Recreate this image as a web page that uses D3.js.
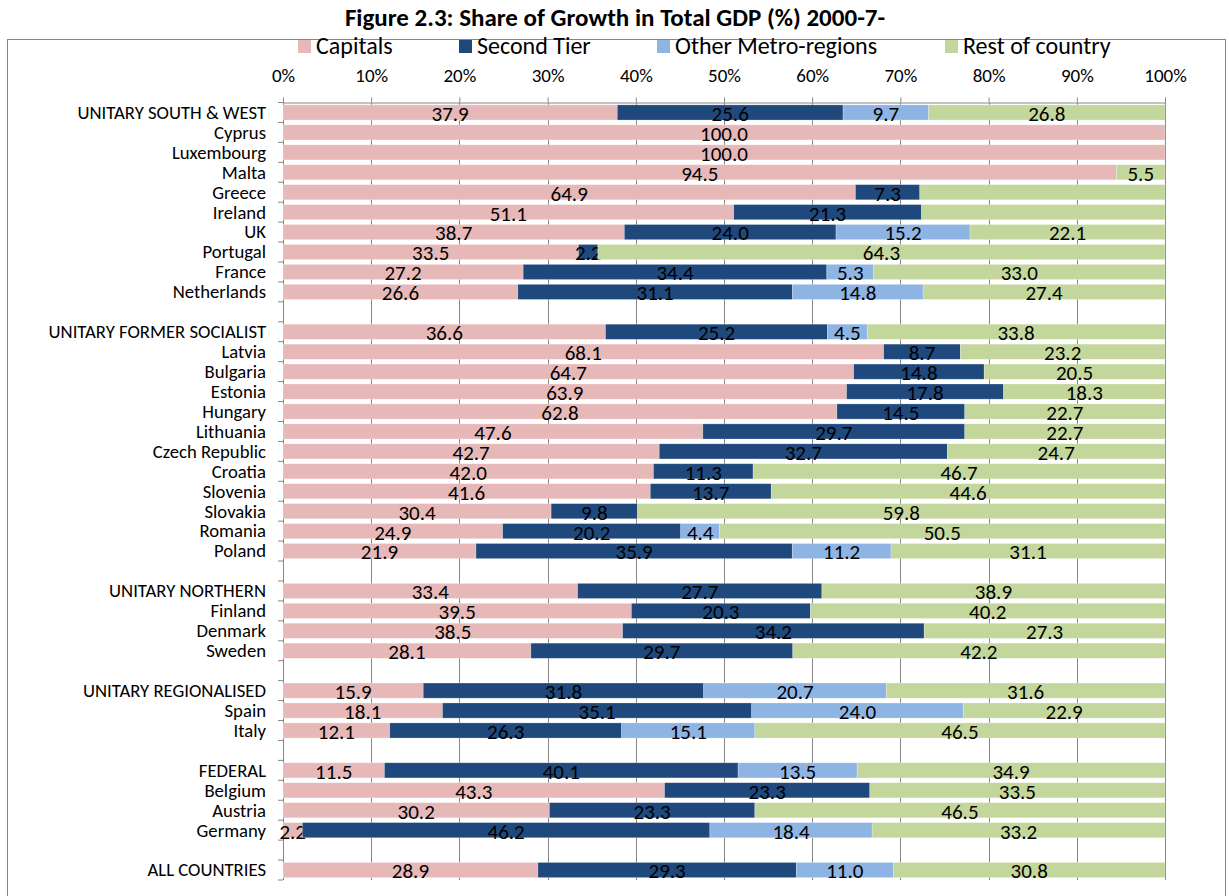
<!DOCTYPE html>
<html>
<head>
<meta charset="utf-8">
<script src="https://cdn.jsdelivr.net/npm/d3@7"></script>
<style>
  body { margin: 0; background: #fff; }
  svg text { font-family: Carlito, Calibri, Lato, sans-serif; fill: #000; }
</style>
</head>
<body>
<div class="chart"></div>
<script>
(function() {

  var width = 1229, height = 896

  // rows of the chart, "" is an empty spacer row
  var categories = ["UNITARY SOUTH & WEST", "Cyprus", "Luxembourg", "Malta", "Greece", "Ireland", "UK", "Portugal", "France", "Netherlands",
                    "",
                    "UNITARY FORMER SOCIALIST", "Latvia", "Bulgaria", "Estonia", "Hungary", "Lithuania", "Czech Republic", "Croatia", "Slovenia", "Slovakia", "Romania", "Poland",
                    "",
                    "UNITARY NORTHERN", "Finland", "Denmark", "Sweden",
                    "",
                    "UNITARY REGIONALISED", "Spain", "Italy",
                    "",
                    "FEDERAL", "Belgium", "Austria", "Germany",
                    "",
                    "ALL COUNTRIES"]

  var seriesNames = ["Capitals", "Second Tier", "Other Metro-regions", "Rest of country"]

  var capitals   = [37.9, 100.0, 100.0, 94.5, 64.9, 51.1, 38.7, 33.5, 27.2, 26.6, 0,
                    36.6, 68.1, 64.7, 63.9, 62.8, 47.6, 42.7, 42.0, 41.6, 30.4, 24.9, 21.9, 0,
                    33.4, 39.5, 38.5, 28.1, 0, 15.9, 18.1, 12.1, 0, 11.5, 43.3, 30.2, 2.2, 0, 28.9]
  var secondTier = [25.6, 0, 0, 0, 7.3, 21.3, 24.0, 2.2, 34.4, 31.1, 0,
                    25.2, 8.7, 14.8, 17.8, 14.5, 29.7, 32.7, 11.3, 13.7, 9.8, 20.2, 35.9, 0,
                    27.7, 20.3, 34.2, 29.7, 0, 31.8, 35.1, 26.3, 0, 40.1, 23.3, 23.3, 46.2, 0, 29.3]
  var otherMetro = [9.7, 0, 0, 0, 0, 0, 15.2, 0, 5.3, 14.8, 0,
                    4.5, 0, 0, 0, 0, 0, 0, 0, 0, 0, 4.4, 11.2, 0,
                    0, 0, 0, 0, 0, 20.7, 24.0, 15.1, 0, 13.5, 0, 0, 18.4, 0, 11.0]
  var restOfCountry = [26.8, 0, 0, 5.5, 27.8, 27.6, 22.1, 64.3, 33.0, 27.4, 0,
                    33.8, 23.2, 20.5, 18.3, 22.7, 22.7, 24.7, 46.7, 44.6, 59.8, 50.5, 31.1, 0,
                    38.9, 40.2, 27.3, 42.2, 0, 31.6, 22.9, 46.5, 0, 34.9, 33.5, 46.5, 33.2, 0, 30.8]

  // segments drawn in the original without a value label
  var unlabelled = ["Greece|Rest of country", "Ireland|Rest of country"]

  var xTicks = [0, 0.1, 0.2, 0.3, 0.4, 0.5, 0.6, 0.7, 0.8, 0.9, 1]

  var colors = ["#E6B9B8", "#1F497D", "#8EB4E3", "#C3D69B"]

  var rows = categories.map(function(c, i) {
    return { idx: i, name: c, "Capitals": capitals[i], "Second Tier": secondTier[i],
             "Other Metro-regions": otherMetro[i], "Rest of country": restOfCountry[i] }
  })

  var stack = d3.stack()
                .keys(seriesNames)
                .offset(d3.stackOffsetExpand)
  var layers = stack(rows)

  var margin = { left: 283, right: 64, top: 102.5, bottom: 16 }
  var plotBottom = 880

  var xScale = d3.scaleLinear()
                 .domain([0, 1])
                 .range([margin.left, width - margin.right])

  var yScale = d3.scaleBand()
                 .domain(d3.range(categories.length))
                 .range([margin.top, plotBottom])
                 .paddingInner(0.24)
                 .paddingOuter(0.12)

  var color = d3.scaleOrdinal()
                .domain(seriesNames)
                .range(colors)

  var svg = d3.select(".chart")
              .append("svg")
              .attr("width", width)
              .attr("height", height)

  // title
  svg.append("text")
     .text("Figure 2.3: Share of Growth in Total GDP (%) 2000-7-")
     .attr("x", 615)
     .attr("y", 26)
     .attr("text-anchor", "middle")
     .attr("font-size", "25px")
     .attr("font-weight", "bold")

  // chart frame
  svg.append("rect")
     .attr("x", 7.5)
     .attr("y", 39.5)
     .attr("width", 1218)
     .attr("height", 880)
     .attr("fill", "none")
     .attr("stroke", "#868686")

  // legend
  var legendX = [298, 459, 657, 945]
  var legend = svg.append("g")
                  .selectAll("g")
                  .data(seriesNames)
                  .enter()
                  .append("g")
                  .attr("transform", function(d, i) {
                    return "translate(" + legendX[i] + ",40)"
                  })
  legend.append("rect")
        .attr("width", 13)
        .attr("height", 13)
        .attr("fill", function(d) { return color(d) })
  legend.append("text")
        .text(function(d) { return d })
        .attr("x", 18)
        .attr("y", 14)
        .attr("font-size", "24px")

  // vertical gridlines
  svg.append("g")
     .selectAll("line")
     .data(xTicks)
     .enter()
     .append("line")
     .attr("x1", function(d) { return Math.round(xScale(d)) + 0.5 })
     .attr("x2", function(d) { return Math.round(xScale(d)) + 0.5 })
     .attr("y1", margin.top)
     .attr("y2", plotBottom)
     .attr("stroke", "#868686")

  // top axis
  var xAxis = d3.axisTop(xScale)
                .tickValues(xTicks)
                .tickFormat(d3.format(".0%"))
                .tickSize(5)
                .tickSizeOuter(0)
                .tickPadding(16)

  var gx = svg.append("g")
              .attr("transform", "translate(0," + margin.top + ")")
              .call(xAxis)
  gx.selectAll("path, line").attr("stroke", "#868686")
  gx.selectAll("text")
    .attr("font-size", "19px")
    .style("font-family", "Carlito, Calibri, Lato, sans-serif")

  // left axis with ticks between categories
  var gy = svg.append("g")
  gy.append("line")
    .attr("x1", margin.left + 0.5)
    .attr("x2", margin.left + 0.5)
    .attr("y1", margin.top)
    .attr("y2", plotBottom)
    .attr("stroke", "#868686")
  gy.selectAll(".ytick")
    .data(d3.range(categories.length + 1))
    .enter()
    .append("line")
    .attr("class", "ytick")
    .attr("x1", margin.left - 5)
    .attr("x2", margin.left)
    .attr("y1", function(i) { return margin.top + i * (plotBottom - margin.top) / categories.length })
    .attr("y2", function(i) { return margin.top + i * (plotBottom - margin.top) / categories.length })
    .attr("stroke", "#868686")
  gy.selectAll(".ylabel")
    .data(rows)
    .enter()
    .append("text")
    .attr("class", "ylabel")
    .text(function(d) { return d.name })
    .attr("x", 266)
    .attr("y", function(d) { return yScale(d.idx) + yScale.bandwidth() / 2 })
    .attr("dy", "0.34em")
    .attr("text-anchor", "end")
    .attr("font-size", "18.7px")

  // stacked bars
  var layerG = svg.append("g")
                  .selectAll("g")
                  .data(layers)
                  .enter()
                  .append("g")
                  .attr("fill", function(d) { return color(d.key) })

  layerG.selectAll("rect")
        .data(function(d) { return d.filter(function(s) { return s[1] - s[0] > 0 }) })
        .enter()
        .append("rect")
        .attr("x", function(s) { return xScale(s[0]) })
        .attr("width", function(s) { return xScale(s[1]) - xScale(s[0]) })
        .attr("y", function(s) { return yScale(s.data.idx) })
        .attr("height", yScale.bandwidth())
        .attr("stroke", "#fff")
        .attr("stroke-opacity", 0.35)
        .attr("stroke-width", 0.7)

  // value labels
  layerG.selectAll("text")
        .data(function(d) {
          return d.filter(function(s) {
            return s[1] - s[0] > 0 && unlabelled.indexOf(s.data.name + "|" + d.key) === -1
          }).map(function(s) { return { s: s, key: d.key } })
        })
        .enter()
        .append("text")
        .text(function(d) { return d3.format(".1f")(d.s.data[d.key]) })
        .attr("x", function(d) { return xScale((d.s[0] + d.s[1]) / 2) })
        .attr("y", function(d) { return yScale(d.s.data.idx) + yScale.bandwidth() / 2 })
        .attr("dy", "0.4em")
        .attr("text-anchor", "middle")
        .attr("font-size", "21px")
        .style("fill", "#000")

}())
</script>
</body>
</html>
